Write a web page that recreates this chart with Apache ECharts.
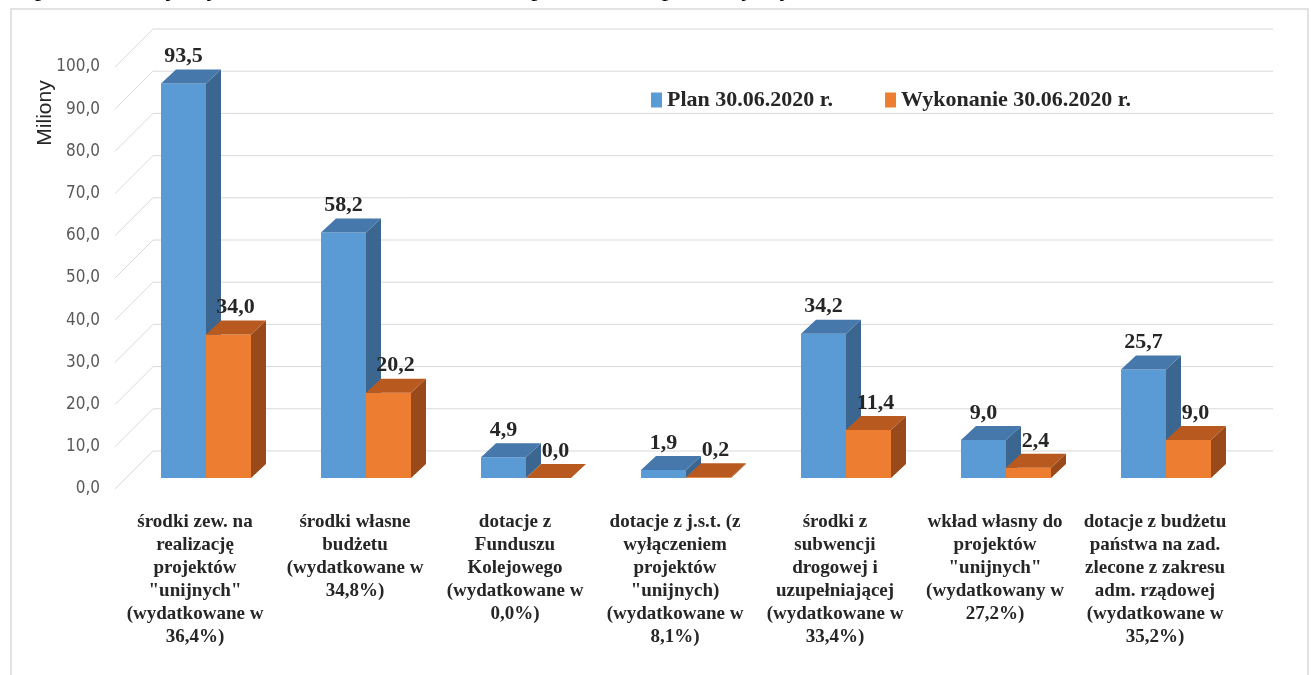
<!DOCTYPE html>
<html>
<head>
<meta charset="utf-8">
<script src="https://cdn.jsdelivr.net/npm/echarts@6/dist/echarts.min.js"></script>
<style>
  html, body { margin: 0; padding: 0; background: #fff; }
  #chart { width: 1311px; height: 675px; }
</style>
</head>
<body>
<div id="chart"></div>
<script>
// dane z wykresu (mln zł)
var categories = [
  'środki zew. na\nrealizację\nprojektów\n"unijnych"\n(wydatkowane w\n36,4%)',
  'środki własne\nbudżetu\n(wydatkowane w\n34,8%)',
  'dotacje z\nFunduszu\nKolejowego\n(wydatkowane w\n0,0%)',
  'dotacje z j.s.t. (z\nwyłączeniem\nprojektów\n"unijnych)\n(wydatkowane w\n8,1%)',
  'środki z\nsubwencji\ndrogowej i\nuzupełniającej\n(wydatkowane w\n33,4%)',
  'wkład własny do\nprojektów\n"unijnych"\n(wydatkowany w\n27,2%)',
  'dotacje z budżetu\npaństwa na zad.\nzlecone z zakresu\nadm. rządowej\n(wydatkowane w\n35,2%)'
];
var planValues = [93.5, 58.2, 4.9, 1.9, 34.2, 9.0, 25.7];
var execValues = [34.0, 20.2, 0.0, 0.2, 11.4, 2.4, 9.0];
var yTicks = [0, 10, 20, 30, 40, 50, 60, 70, 80, 90, 100];
var seriesNames = ['Plan 30.06.2020 r.', 'Wykonanie 30.06.2020 r.'];

var WALL = 38;      // glebokosc sciany tylnej
var BAR_D = 11;     // przesuniecie slupkow od frontu
var BAR_W = 45;
var SIDE_X = 15, SIDE_Y = 14;

var palettes = [
  { front: '#5B9BD5', top: '#4678AC', side: '#3B6690' },
  { front: '#ED7D31', top: '#B85A1F', side: '#99491A' }
];

function fmt(v) { return v.toFixed(1).replace('.', ','); }

function barRenderer(sIdx) {
  var pal = palettes[sIdx];
  return function (params, api) {
    var idx = api.value(0), v = api.value(1);
    var c = api.coord([idx, v]);
    var c0 = api.coord([idx, 0]);
    var xc = c[0] + BAR_D;
    var x0 = sIdx === 0 ? xc - BAR_W : xc;
    var yTop = c[1] - BAR_D;
    var yBase = c0[1] - BAR_D;
    var x1 = x0 + BAR_W;
    var labelX = x0 + BAR_W / 2 + (sIdx === 0 ? 0 : 7);
    return {
      type: 'group',
      children: [
        { type: 'rect', shape: { x: x0, y: yTop, width: BAR_W, height: yBase - yTop }, style: { fill: pal.front } },
        { type: 'polygon', shape: { points: [[x1, yTop], [x1 + SIDE_X, yTop - SIDE_Y], [x1 + SIDE_X, yBase - SIDE_Y], [x1, yBase]] }, style: { fill: pal.side } },
        { type: 'polygon', shape: { points: [[x0, yTop], [x1, yTop], [x1 + SIDE_X, yTop - SIDE_Y], [x0 + SIDE_X, yTop - SIDE_Y]] }, style: { fill: pal.top } },
        { type: 'text', x: labelX, y: yTop - SIDE_Y - 13,
          style: { text: fmt(v), fill: '#262626', font: 'bold 22px "Liberation Serif", serif', align: 'center', verticalAlign: 'middle' } }
      ]
    };
  };
}

function gridRenderer(params, api) {
  var cs = params.coordSys;
  var y = api.coord([0, api.value(1)])[1];
  var st = { stroke: '#D9D9D9', lineWidth: 1 };
  return {
    type: 'group',
    children: [
      { type: 'line', shape: { x1: cs.x, y1: y, x2: cs.x + WALL, y2: y - WALL }, style: st },
      { type: 'line', shape: { x1: cs.x + WALL, y1: y - WALL, x2: cs.x + cs.width + WALL, y2: y - WALL }, style: st }
    ]
  };
}

var chart = echarts.init(document.getElementById('chart'));
chart.setOption({
  animation: false,
  graphic: [
    { type: 'rect', shape: { x: 11, y: 9, width: 1297, height: 700 }, style: { fill: 'none', stroke: '#D9D9D9', lineWidth: 1.5 }, z: -10 },
    { type: 'text', left: 0, top: -24, style: { text: 'Stopień realizacji wydatków w ramach ww. źródeł przedstawia poniższy wykres:', fill: '#000', font: '26px "Liberation Serif", serif' } },
    { type: 'text', x: 45, y: 113, rotation: Math.PI / 2,
      style: { text: 'Miliony', fill: '#262626', font: '21px "Liberation Sans", sans-serif', align: 'center', verticalAlign: 'middle' } }
  ],
  legend: {
    data: seriesNames,
    left: 646, top: 84,
    itemWidth: 11, itemHeight: 15, itemGap: 52,
    icon: 'rect',
    textStyle: { fontFamily: '"Liberation Serif", serif', fontWeight: 'bold', fontSize: 22, color: '#262626' }
  },
  grid: { left: 115, right: 76, top: 67, bottom: 186, containLabel: false },
  xAxis: {
    type: 'category',
    data: categories,
    axisLine: { show: false },
    axisTick: { show: false },
    splitLine: { show: false },
    axisLabel: {
      interval: 0, margin: 22,
      fontFamily: '"Liberation Serif", serif', fontWeight: 'bold', fontSize: 19,
      lineHeight: 23, color: '#262626'
    }
  },
  yAxis: {
    type: 'value', min: 0, max: 100, interval: 10,
    axisLine: { show: false }, axisTick: { show: false }, splitLine: { show: false },
    axisLabel: {
      margin: 15, formatter: fmt, padding: [6, 0, 0, 0],
      fontFamily: '"Liberation Sans Narrow", "DejaVu Sans Condensed", sans-serif', fontSize: 17, color: '#595959'
    }
  },
  series: [
    { type: 'custom', name: '_grid', silent: true, z: 1,
      data: yTicks.map(function (t) { return [0, t]; }), renderItem: gridRenderer },
    { type: 'custom', name: seriesNames[0], z: 3, itemStyle: { color: palettes[0].front },
      data: planValues.map(function (v, i) { return [i, v]; }), renderItem: barRenderer(0) },
    { type: 'custom', name: seriesNames[1], z: 4, itemStyle: { color: palettes[1].front },
      data: execValues.map(function (v, i) { return [i, v]; }), renderItem: barRenderer(1) }
  ]
});
</script>
</body>
</html>
